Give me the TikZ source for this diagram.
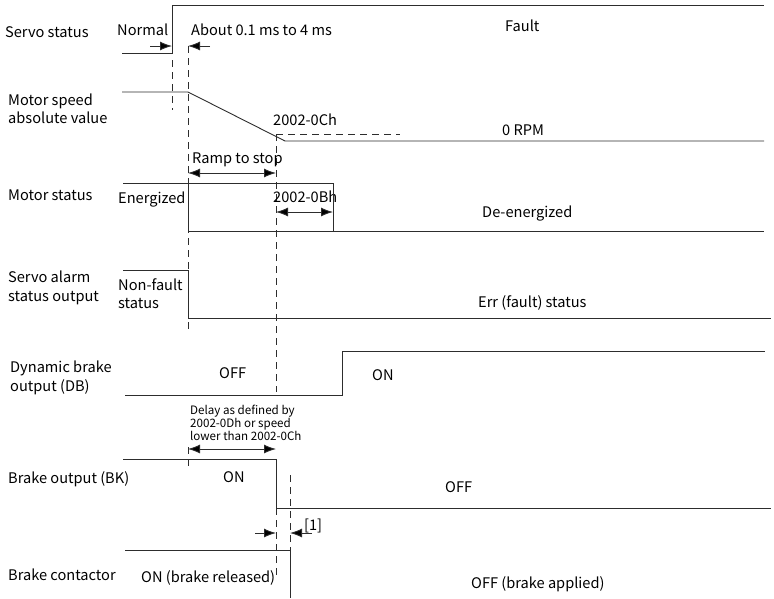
\documentclass[tikz,border=0pt]{standalone}
\usepackage{fontspec}
\setmainfont{Noto Sans CJK SC}
\usetikzlibrary{arrows.meta}
\definecolor{ln}{RGB}{45,45,45}
\begin{document}
\begin{tikzpicture}[x=1pt,y=-1pt,
  sig/.style={draw=ln,line width=0.9pt},
  dsh/.style={draw=ln,line width=0.9pt,dash pattern=on 7pt off 5pt},
  dim/.style={draw=ln,line width=0.9pt,{Latex[length=12pt,width=9pt,fill=black]}-{Latex[length=12pt,width=9pt,fill=black]}},
  tip/.style={draw=ln,line width=0.9pt,-{Latex[length=12pt,width=9pt,fill=black]}},
  lbl/.style={anchor=base west,inner sep=0pt,text=black,font=\fontsize{14.6}{17}\selectfont},
  sml/.style={anchor=base west,inner sep=0pt,text=black,font=\fontsize{11.6}{13}\selectfont},
]
\useasboundingbox (0,0) rectangle (774,598);

% ---------- Servo status
\node[lbl] (l1) at (5,37) {Servo status};
\node[lbl] (normal) at (117,35) {Normal};
\node[lbl] (about) at (191,35) {About 0.1 ms to 4 ms};
\node[lbl] (fault) at (505,31) {Fault};
\draw[sig] (122,53) -- (172,53) -- (172,5) -- (764,5);
\coordinate (a1s) at (150,46); \coordinate (a1e) at (172,46);
\coordinate (a2s) at (210,46); \coordinate (a2e) at (188,46);
\draw[tip] (a1s) -- (a1e);
\draw[tip] (a2s) -- (a2e);
\draw[dsh] (172,60) -- (172,110);
\draw[dsh] (188,46) -- (188,330);
\draw[dsh] (188,447) -- (188,470);

% ---------- Motor speed
\node[lbl] (l2a) at (8,105) {Motor speed};
\node[lbl] (l2b) at (8,123) {absolute value};
\node[lbl] (c0ch) at (273,125) {2002-0Ch};
\node[lbl] (rpm) at (502,135) {0 RPM};
\draw[sig] (122,92) -- (188,92) -- (285,141) -- (764,141);
\draw[dsh] (276,134) -- (400,134);
\draw[dsh] (276,134) -- (276,392);
\draw[dsh] (276,508) -- (276,578);

% ---------- Motor status
\node[lbl] (l3) at (8,200) {Motor status};
\node[lbl] (ener) at (118,203) {Energized};
\node[lbl] (ramp) at (192,163) {Ramp to stop};
\node[lbl] (c0bh) at (273,202) {2002-0Bh};
\node[lbl] (deen) at (482,217) {De-energized};
\draw[sig] (123,183) -- (333,183) -- (333,231);
\draw[sig] (188,183) -- (188,231) -- (764,231);
\coordinate (r1) at (188,173); \coordinate (r2) at (276,173);
\draw[dim] (r1) -- (r2);
\coordinate (b1) at (276,212); \coordinate (b2) at (333,212);
\draw[dim] (b1) -- (b2);

% ---------- Servo alarm status output
\node[lbl] (l4a) at (8,282) {Servo alarm};
\node[lbl] (l4b) at (8,301) {status output};
\node[lbl] (nf1) at (118,290) {Non-fault};
\node[lbl] (nf2) at (118,308) {status};
\node[lbl] (err) at (478,307) {Err (fault) status};
\draw[sig] (123,270) -- (188,270) -- (188,318) -- (771,318);

% ---------- Dynamic brake output
\node[lbl] (l5a) at (10,372) {Dynamic brake};
\node[lbl] (l5b) at (10,391) {output (DB)};
\node[lbl] (dboff) at (219,378) {OFF};
\node[lbl] (dbon) at (372,380) {ON};
\draw[sig] (125,395) -- (342,395) -- (342,351) -- (765,351);

% ---------- Delay
\node[sml] (d1) at (190,414) {Delay as defined by};
\node[sml] (d2) at (190,427) {2002-0Dh or speed};
\node[sml] (d3) at (190,440) {lower than 2002-0Ch};
\coordinate (dl1) at (188,449); \coordinate (dl2) at (276,449);
\draw[dim] (dl1) -- (dl2);

% ---------- Brake output
\node[lbl] (l6) at (8,483) {Brake output (BK)};
\node[lbl] (bkon) at (223,482) {ON};
\node[lbl] (bkoff) at (445,492) {OFF};
\draw[sig] (123,459) -- (276,459) -- (276,508) -- (771,508);
\draw[dsh] (290,475) -- (290,550);
\node[lbl] (n1) at (304,530) {[1]};
\coordinate (k1s) at (255,533); \coordinate (k1e) at (276,533);
\coordinate (k2s) at (312,533); \coordinate (k2e) at (290,533);
\draw[tip] (k1s) -- (k1e);
\draw[tip] (k2s) -- (k2e);

% ---------- Brake contactor
\node[lbl] (l7) at (8,580) {Brake contactor};
\node[lbl] (bcon) at (141,582) {ON (brake released)};
\node[lbl] (bcoff) at (471,588) {OFF (brake applied)};
\draw[sig] (125,550) -- (290,550) -- (290,598);
\end{tikzpicture}
\end{document}
